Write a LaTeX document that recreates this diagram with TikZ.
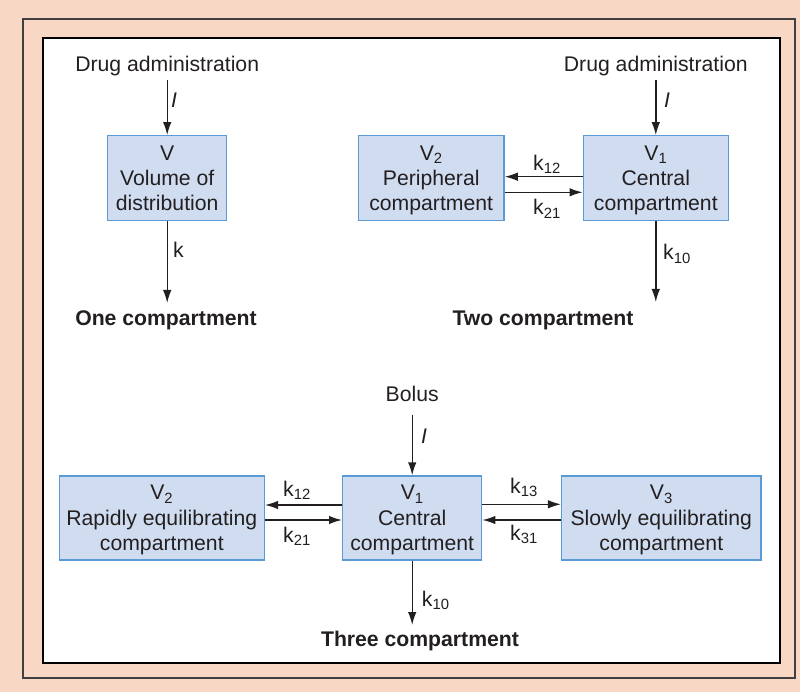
\documentclass[tikz,border=0pt]{standalone}
\usepackage{fontspec}
\setmainfont{Liberation Sans}
\usetikzlibrary{arrows.meta,calc}
\definecolor{peach}{HTML}{F8D7C4}
\definecolor{boxfill}{HTML}{D0DDF1}
\definecolor{boxline}{HTML}{5B9BD5}
\definecolor{ink}{HTML}{231F20}
\begin{document}
\begin{tikzpicture}[x=1pt,y=-1pt,
  every node/.style={font=\fontsize{21.2}{25.3}\selectfont, text=ink},
  comp/.style={draw=boxline, fill=boxfill, line width=1.4pt, align=center, inner sep=0pt, text depth=0pt},
  arr/.style={draw=ink, line width=1.4pt, -{Latex[length=13pt,width=8.5pt]}},
  lbl/.style={inner sep=0pt, anchor=base west},
  ital/.style={inner sep=0pt, anchor=base west, font=\fontsize{21.2}{25.3}\selectfont\itshape},
  ttl/.style={inner sep=0pt, anchor=base, font=\fontsize{21.2}{25.3}\selectfont\bfseries},
  src/.style={inner sep=0pt, anchor=base}]
\fill[peach] (0,0) rectangle (800,692);
\draw[black!75, line width=1.6pt] (23,19) rectangle (795,678);
\draw[black, line width=2.6pt, fill=white] (43,38) rectangle (780,663);
\useasboundingbox (0,0) rectangle (800,692);

% One compartment
\node[comp, minimum width=119pt, minimum height=85pt] (one) at (167.2,178.3) {V\\Volume of\\distribution};
\node[src] (d1) at (167.2,72) {Drug administration};
\draw[arr] ([yshift=-8pt]d1.base) -- (one.north);
\node[ital] at (171,108) {I};
\coordinate (e1) at (167.2,303);
\draw[arr] (one.south) -- (e1);
\node[lbl] at (173,258) {k};
\node[ttl] at (166,326) {One compartment};

% Two compartment
\node[comp, minimum width=145.7pt, minimum height=85pt] (t2) at (431.2,178.3) {V\textsubscript{2}\\Peripheral\\compartment};
\node[comp, minimum width=145pt, minimum height=85pt] (t1) at (655.8,178.3) {V\textsubscript{1}\\Central\\compartment};
\node[src] (d2) at (655.8,72) {Drug administration};
\draw[arr] ([yshift=-8pt]d2.base) -- (t1.north);
\node[ital] at (664,108) {I};
\draw[arr] ([yshift=1.6pt]t1.west) -- ([yshift=1.6pt]t2.east);
\draw[arr] ([yshift=-14pt]t2.east) -- ([yshift=-14pt]t1.west);
\node[lbl] at (533,170.7) {k\textsubscript{12}};
\node[lbl] at (533,215) {k\textsubscript{21}};
\coordinate (e2) at (655.8,302);
\draw[arr] (t1.south) -- (e2);
\node[lbl] at (663,260) {k\textsubscript{10}};
\node[ttl] at (543,326) {Two compartment};

% Three compartment
\node[comp, minimum width=205pt, minimum height=84pt] (r2) at (161.8,518) {V\textsubscript{2}\\Rapidly equilibrating\\compartment};
\node[comp, minimum width=139pt, minimum height=84pt] (r1) at (412.2,518) {V\textsubscript{1}\\Central\\compartment};
\node[comp, minimum width=199.3pt, minimum height=84pt] (r3) at (661.3,518) {V\textsubscript{3}\\Slowly equilibrating\\compartment};
\node[src] (b) at (412.2,401.7) {Bolus};
\draw[arr] ([yshift=-13pt]b.base) -- (r1.north);
\node[ital] at (421,443) {I};
\draw[arr] ([yshift=13pt]r1.west) -- ([yshift=13pt]r2.east);
\draw[arr] ([yshift=-2pt]r2.east) -- ([yshift=-2pt]r1.west);
\draw[arr] ([yshift=13.7pt]r1.east) -- ([yshift=13.7pt]r3.west);
\draw[arr] ([yshift=-2pt]r3.west) -- ([yshift=-2pt]r1.east);
\node[lbl] at (283,496) {k\textsubscript{12}};
\node[lbl] at (283,542.7) {k\textsubscript{21}};
\node[lbl] at (510,493.3) {k\textsubscript{13}};
\node[lbl] at (510,540) {k\textsubscript{31}};
\coordinate (e3) at (412.2,625);
\draw[arr] (r1.south) -- (e3);
\node[lbl] at (421.7,606.7) {k\textsubscript{10}};
\node[ttl] at (420,646) {Three compartment};
\end{tikzpicture}
\end{document}
